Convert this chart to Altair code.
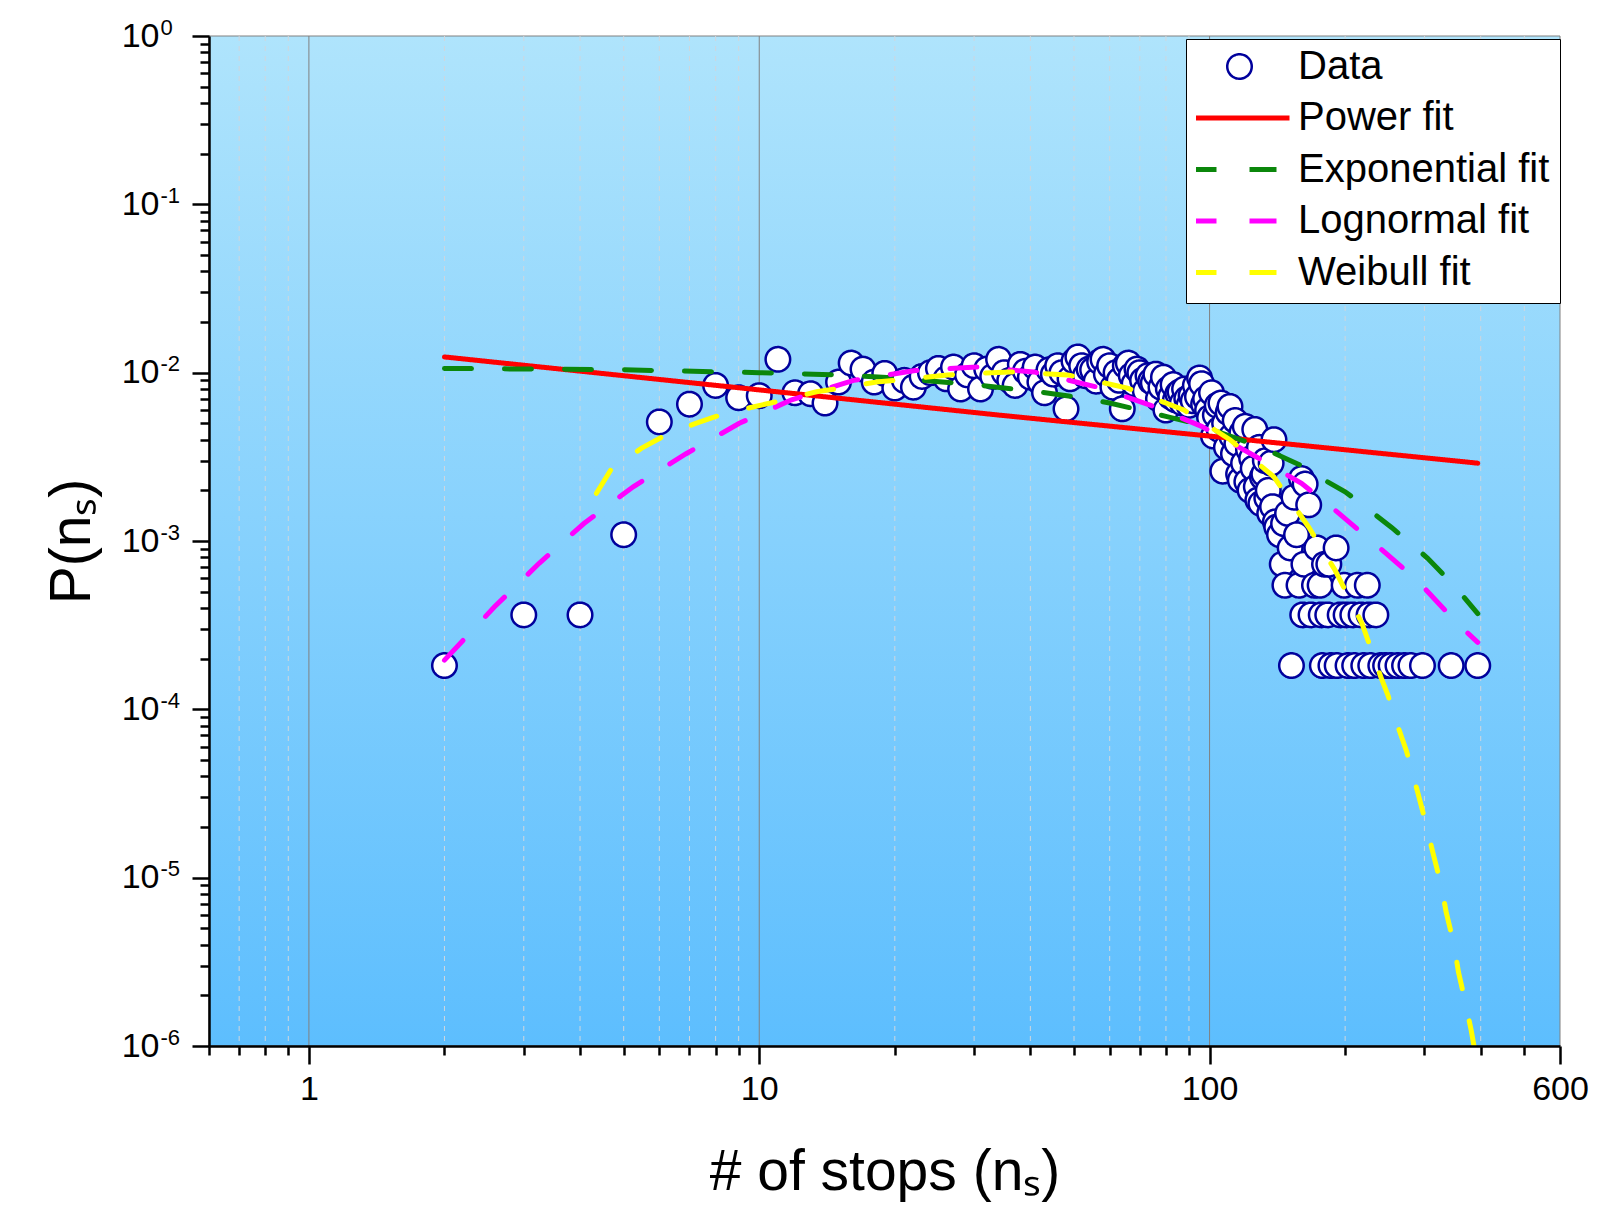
import altair as alt
import pandas as pd

FONT = "Liberation Sans, Arial, Helvetica, sans-serif"

# ---------------- data ----------------
data_x = [2, 3, 4, 5, 6, 7, 8, 9, 10, 11, 12, 13, 14, 15, 16, 17, 18, 19,
          20, 21, 22, 23, 24, 25, 26, 27, 28, 29, 30, 31, 32, 33, 34, 35, 36, 37, 38, 39,
          40, 41, 42, 43, 44, 45, 46, 47, 48, 49, 50, 51, 52, 53, 54, 55, 56, 57, 58, 59,
          60, 61, 62, 63, 64, 65, 66, 67, 68, 69, 70, 71, 72, 73, 74, 75, 76, 77, 78, 79,
          80, 81, 82, 83, 84, 85, 86, 87, 88, 89, 90, 91, 92, 93, 94, 95, 96, 97, 98, 99,
          100, 101, 102, 103, 104, 105, 106, 107, 108, 109, 110, 111, 112, 113, 114, 115,
          116, 117, 118, 119, 120, 121, 122, 123, 124, 125, 126, 127, 128, 129, 130, 131,
          132, 133, 134, 135, 136, 137, 138, 139, 140, 141,
          143, 145, 146, 147, 149, 151, 152, 154, 156, 158, 160, 161, 162, 163, 166, 168,
          171, 173, 176, 177, 178, 180, 183, 184, 186, 191, 192, 195, 199, 201, 203, 208,
          210, 213, 217, 220, 224, 226, 228, 234, 240, 246, 253, 262, 271, 280, 297, 344, 394]
data_y = [1.82e-4, 3.64e-4, 3.64e-4, 1.09e-3, 5.1e-3, 6.5e-3, 8.4e-3, 7.1e-3, 7.3e-3, 1.2e-2,
          7.6e-3, 7.5e-3, 6.6e-3, 8.8e-3, 1.14e-2, 1.05e-2, 8.8e-3, 9.9e-3,
          8.1e-3, 9.0e-3, 8.2e-3, 9.5e-3, 1.0e-2, 1.06e-2, 9.2e-3, 1.08e-2, 8.0e-3, 9.7e-3,
          1.1e-2, 8.0e-3, 1.05e-2, 9.5e-3, 1.2e-2, 1.0e-2, 9.0e-3, 8.4e-3, 1.12e-2, 1.02e-2,
          9.4e-3, 1.08e-2, 8.8e-3, 7.6e-3, 1.04e-2, 9.8e-3, 1.1e-2, 1.0e-2, 6.1e-3, 9.2e-3,
          1.17e-2, 1.24e-2, 1.1e-2, 9.6e-3, 1.05e-2, 1.04e-2, 8.9e-3, 1.16e-2, 1.2e-2, 9.8e-3,
          1.1e-2, 8.2e-3, 1.0e-2, 9.0e-3, 6.1e-3, 1.1e-2, 1.14e-2, 9.6e-3, 8.6e-3, 1.05e-2,
          1.0e-2, 9.0e-3, 7.8e-3, 9.6e-3, 8.9e-3, 8.7e-3, 9.8e-3, 7.0e-3, 8.2e-3, 9.4e-3,
          6.0e-3, 8.0e-3, 7.2e-3, 8.5e-3, 6.9e-3, 7.5e-3, 7.7e-3, 6.6e-3, 8.0e-3, 7.0e-3,
          6.4e-3, 7.3e-3, 6.8e-3, 8.4e-3, 7.2e-3, 9.3e-3, 8.6e-3, 6.5e-3, 7.0e-3, 6.0e-3,
          5.4e-3, 7.6e-3, 4.2e-3, 5.6e-3, 6.4e-3, 4.6e-3, 6.6e-3, 2.6e-3, 5.0e-3, 3.6e-3,
          5.8e-3, 6.3e-3, 4.2e-3, 3.3e-3, 5.2e-3, 3.8e-3, 2.5e-3, 2.3e-3, 4.4e-3, 2.9e-3,
          4.8e-3, 2.25e-3, 3.5e-3, 2.0e-3, 3.1e-3, 2.7e-3, 4.6e-3, 2.1e-3, 1.75e-3, 3.6e-3,
          1.67e-3, 2.4e-3, 2.5e-3, 3.0e-3, 1.8e-3, 2.0e-3, 1.46e-3, 2.9e-3, 1.6e-3, 4.0e-3,
          1.3e-3, 1.21e-3,
          1.09e-3, 7.28e-4, 1.27e-3, 5.46e-4, 1.46e-3, 9.1e-4, 1.82e-4, 1.82e-3, 1.09e-3,
          5.46e-4, 2.35e-3, 3.64e-4, 7.28e-4, 2.18e-3, 1.64e-3, 3.64e-4,
          5.46e-4, 9.1e-4, 5.46e-4, 3.64e-4, 1.82e-4, 7.28e-4, 3.64e-4, 7.28e-4, 1.82e-4,
          9.1e-4, 1.82e-4, 3.64e-4, 5.46e-4, 3.64e-4, 1.82e-4, 3.64e-4,
          1.82e-4, 5.46e-4, 3.64e-4, 1.82e-4, 5.46e-4, 3.64e-4, 1.82e-4, 3.64e-4, 1.82e-4,
          1.82e-4, 1.82e-4, 1.82e-4, 1.82e-4, 1.82e-4, 1.82e-4, 1.82e-4, 1.82e-4]

power_x = [2, 10, 34, 100, 394]
power_y = [1.24e-2, 7.9e-3, 5.6e-3, 4.2e-3, 2.9e-3]

exp_x = [2, 5, 10, 15, 20, 30, 40, 50, 60, 70, 80, 90, 100, 120, 140, 160, 180, 200,
         215, 254, 305, 350, 394]
exp_y = [1.06e-2, 1.04e-2, 1.0e-2, 9.7e-3, 9.3e-3, 8.5e-3, 7.8e-3, 7.2e-3, 6.6e-3, 6.0e-3,
         5.5e-3, 5.1e-3, 4.65e-3, 3.9e-3, 3.3e-3, 2.8e-3, 2.3e-3, 1.96e-3,
         1.7e-3, 1.2e-3, 7.9e-4, 5.4e-4, 3.7e-4]

logn_x = [2, 2.58, 3.25, 4.08, 5.25, 6.88, 9.03, 11.8, 16.2, 22.2, 30.4, 40.7, 56.4, 74,
          96, 126, 160, 192, 228, 288, 355, 394]
logn_y = [1.96e-4, 4.05e-4, 7.4e-4, 1.27e-3, 2.1e-3, 3.3e-3, 5.0e-3, 6.9e-3, 9.0e-3,
          1.03e-2, 1.08e-2, 1.01e-2, 8.2e-3, 6.4e-3, 4.8e-3, 3.2e-3, 2.2e-3, 1.49e-3,
          1.01e-3, 5.9e-4, 3.24e-4, 2.5e-4]

weib_x = [4.35, 4.68, 5.47, 6.2, 7.23, 8.4, 9.8, 11.4, 13.4, 15.2, 18.2, 20.8, 26.2, 36,
          48.4, 65.7, 87.7, 111, 139, 166, 190, 218, 240, 249, 262, 274, 290, 303, 313,
          327, 335, 349, 357, 371, 381, 394]
weib_y = [1.92e-3, 2.64e-3, 3.55e-3, 4.26e-3, 5.0e-3, 5.73e-3, 6.3e-3, 6.9e-3, 7.7e-3,
          8.1e-3, 8.8e-3, 9.1e-3, 9.7e-3, 1.01e-2, 9.7e-3, 8.1e-3, 6.0e-3, 4.0e-3, 2.4e-3,
          1.21e-3, 6.7e-4, 3.24e-4, 1.56e-4, 1.21e-4, 7.9e-5, 5.6e-5, 3.2e-5, 2.05e-5,
          1.42e-5, 9.0e-6, 6.3e-6, 4.0e-6, 2.75e-6, 1.75e-6, 1.24e-6, 7.5e-7]

series_names = ["Data", "Power fit", "Exponential fit", "Lognormal fit", "Weibull fit"]
series_colors = ["#00009c", "#ff0000", "#0b870b", "#ff00ff", "#ffff00"]
series_dashes = [[1, 0], [1, 0], [27, 33], [27, 33], [27, 33]]
# symbol size is shared (long legend strokes); the data circle is a small unit-box path
SYMBOL_SIZE = 10000
CIRCLE_PATH = "M-0.245,0A0.245,0.245,0,1,1,0.245,0A0.245,0.245,0,1,1,-0.245,0Z"
series_shapes = [CIRCLE_PATH, "stroke", "stroke", "stroke", "stroke"]

x_major = [1, 10, 100, 600]
x_major_grid = [1, 10, 100]
x_minor = [0.6, 0.7, 0.8, 0.9, 2, 3, 4, 5, 6, 7, 8, 9,
           20, 30, 40, 50, 60, 70, 80, 90, 200, 300, 400, 500]
x_minor_grid = [0.7, 0.8, 0.9, 2, 3, 4, 5, 6, 7, 8, 9,
                20, 30, 40, 50, 60, 70, 80, 90, 200, 300, 400, 500]
y_major = [1e-6, 1e-5, 1e-4, 1e-3, 1e-2, 1e-1, 1]
y_minor = [m * 10.0 ** k for k in range(-6, 0) for m in range(2, 10)]
y_exponents = ["-6", "-5", "-4", "-3", "-2", "-1", "0"]

# ---------------- tables ----------------
df_points = pd.DataFrame({"x": data_x, "y": data_y, "series": "Data"})
fit_frames = []
for name, xs, ys in [("Power fit", power_x, power_y),
                     ("Exponential fit", exp_x, exp_y),
                     ("Lognormal fit", logn_x, logn_y),
                     ("Weibull fit", weib_x, weib_y)]:
    fit_frames.append(pd.DataFrame({"x": xs, "y": ys, "series": name}))
df_fits = pd.concat(fit_frames, ignore_index=True)
df_major_grid = pd.DataFrame({"v": x_major_grid})
df_minor_grid = pd.DataFrame({"v": x_minor_grid})
df_ylab = pd.DataFrame({"v": y_major})
df_bg = pd.DataFrame({"a": [0]})

xscale = alt.Scale(type="log", domain=[0.6, 600], nice=False)
yscale = alt.Scale(type="log", domain=[1e-6, 1], nice=False)
color_scale = alt.Scale(domain=series_names, range=series_colors)
dash_scale = alt.Scale(domain=series_names, range=series_dashes)
shape_scale = alt.Scale(domain=series_names, range=series_shapes)

exp_label_expr = " : ".join(
    [f"abs(log(datum.value)/LN10 - ({e})) < 0.1 ? '{lab}'" for e, lab in zip(range(-6, 1), y_exponents)]
) + " : ''"

common_axis = dict(tickColor="black", tickWidth=2.5, domainColor="black", domainWidth=2.5,
                   labelFont=FONT, labelColor="black", titleFont=FONT, titleColor="black",
                   titleFontWeight="normal", labelOverlap=False, grid=False, zindex=1)

x_axis_major = alt.Axis(values=x_major, orient="bottom", title="# of stops (n\u209b)",
                        labelExpr="format(datum.value, 'd')", labelFontSize=34,
                        labelPadding=8, tickSize=18, labelFlush=False,
                        titleFontSize=57, titlePadding=38, **common_axis)
x_axis_minor = alt.Axis(values=x_minor, orient="bottom", title=None, labels=False,
                        tickSize=9, domain=False, tickColor="black", tickWidth=2.5,
                        grid=False, zindex=1)
y_axis_major = alt.Axis(values=y_major, orient="left", title="P(n\u209b)",
                        labelExpr="'10'", labelFontSize=34, labelPadding=33,
                        tickSize=17, titleFontSize=57, titlePadding=20,
                        **common_axis)
y_axis_minor = alt.Axis(values=y_minor, orient="left", title=None, labels=False,
                        tickSize=9, domain=False, tickColor="black", tickWidth=2.5,
                        grid=False, zindex=1)
y_axis_exp = alt.Axis(values=y_major, orient="left", title=None, ticks=False, tickSize=0,
                      domain=False, grid=False, labelExpr=exp_label_expr,
                      labelFont=FONT, labelFontSize=22, labelColor="black",
                      labelAlign="left", labelBaseline="middle", labelOffset=-9,
                      labelPadding=49, labelOverlap=False, zindex=1)

legend = alt.Legend(orient="none", legendX=977, legendY=3, title=None,
                    fillColor="white", strokeColor="black", padding=10,
                    labelFont=FONT, labelFontSize=40, labelColor="black", labelLimit=600,
                    symbolSize=SYMBOL_SIZE,
                    symbolStrokeWidth={"expr": "(datum.value === 'Data' ? 2.5 : 5)"},
                    rowPadding=10.5, clipHeight=35,
                    labelOffset=6, symbolOffset=-9)

bg_gradient = alt.LinearGradient(gradient="linear", x1=0, x2=0, y1=0, y2=1,
                                 stops=[alt.GradientStop(color="#afe4fc", offset=0),
                                        alt.GradientStop(color="#5dbefe", offset=1)])

background = alt.Chart(df_bg).mark_rect(fill=bg_gradient, stroke="#808080", strokeWidth=1).encode(
    x=alt.value(0), x2=alt.value("width"), y=alt.value(0), y2=alt.value("height"))
minor_grid = alt.Chart(df_minor_grid).mark_rule(color="#cfd6dd", strokeWidth=1, strokeDash=[5, 5]).encode(
    x=alt.X("v:Q", scale=xscale, axis=None))
major_grid = alt.Chart(df_major_grid).mark_rule(color="#808080", strokeWidth=1).encode(
    x=alt.X("v:Q", scale=xscale, axis=None))
exp_labels = alt.Chart(df_ylab).mark_tick(opacity=0).encode(
    y=alt.Y("v:Q", scale=yscale, axis=y_axis_exp))
points = alt.Chart(df_points).mark_point(
    filled=True, fill="white", fillOpacity=1, opacity=1, size=SYMBOL_SIZE, strokeWidth=2.5
).encode(
    x=alt.X("x:Q", scale=xscale, axis=x_axis_major),
    y=alt.Y("y:Q", scale=yscale, axis=y_axis_major),
    stroke=alt.Stroke("series:N", scale=color_scale, legend=legend),
    shape=alt.Shape("series:N", scale=shape_scale, legend=legend),
    strokeDash=alt.StrokeDash("series:N", scale=dash_scale, legend=legend),
)
lines = alt.Chart(df_fits).mark_line(strokeWidth=5, strokeCap="round", clip=True).encode(
    x=alt.X("x:Q", scale=xscale, axis=x_axis_minor),
    y=alt.Y("y:Q", scale=yscale, axis=y_axis_minor),
    stroke=alt.Stroke("series:N", scale=color_scale, legend=legend),
    strokeDash=alt.StrokeDash("series:N", scale=dash_scale, legend=legend),
)

chart = alt.layer(background, minor_grid, major_grid, exp_labels, points, lines).resolve_axis(
    x="independent", y="independent").properties(
    width=1351, height=1010,
    autosize=alt.AutoSizeParams(type="none"),
    padding={"left": 201, "top": 28, "right": 40, "bottom": 177},
    background="white",
).configure_view(stroke=None)

chart.save("out.html", embed_options={"renderer": "svg", "actions": False})
